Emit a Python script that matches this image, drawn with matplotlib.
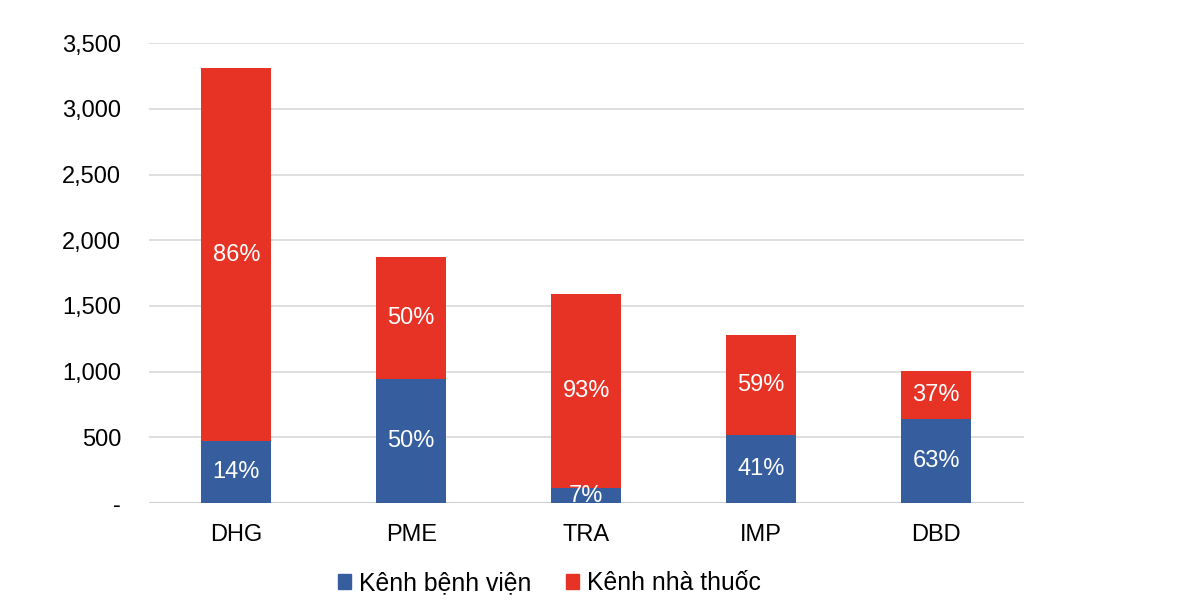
import matplotlib
matplotlib.use('Agg')
from matplotlib import pyplot as plt
from matplotlib.ticker import FuncFormatter
from matplotlib.patches import Patch

plt.rcParams['font.family'] = ['Liberation Sans', 'DejaVu Sans']

companies = ["DHG", "PME", "TRA", "IMP", "DBD"]
hospital = [472, 943, 114, 520, 636]
pharmacy = [2838, 929, 1476, 758, 368]
hospital_pct = ["14%", "50%", "7%", "41%", "63%"]
pharmacy_pct = ["86%", "50%", "93%", "59%", "37%"]
series_names = ["Kênh bệnh viện", "Kênh nhà thuốc"]

blue = "#365E9F"
red = "#E63326"
fs = 17

fig = plt.figure(figsize=(12, 6.16), dpi=100)
ax = fig.add_axes([0.124, 0.1834, 0.729, 0.7466])

x = list(range(len(companies)))
ax.bar(x, hospital, width=0.4, color=blue, zorder=3)
ax.bar(x, pharmacy, width=0.4, bottom=hospital, color=red, zorder=3)

for i in x:
    ax.text(i, hospital[i] / 2, hospital_pct[i], ha='center', va='center',
            color='white', fontsize=fs, zorder=4)
    ax.text(i, hospital[i] + pharmacy[i] / 2, pharmacy_pct[i], ha='center',
            va='center', color='white', fontsize=fs, zorder=4)

ax.set_xlim(-0.5, len(companies) - 0.5)
ax.set_ylim(0, 3500)
ax.set_yticks(range(0, 3501, 500))
ax.yaxis.set_major_formatter(FuncFormatter(lambda v, p: "-" if v == 0 else f"{int(v):,}"))
ax.set_xticks(x)
ax.set_xticklabels(companies)
ax.tick_params(axis='both', length=0, labelsize=fs, colors='black')
ax.tick_params(axis='y', pad=20)
ax.tick_params(axis='x', pad=15)
ax.grid(axis='y', color='#D9D9D9', linewidth=1.2, zorder=0)
ax.axhline(0, color='#D0D0D0', linewidth=1.5, zorder=2)
for s in ax.spines.values():
    s.set_visible(False)

handles = [Patch(color=blue), Patch(color=red)]
fig.legend(handles, series_names, loc='center', bbox_to_anchor=(0.4575, 0.053),
           ncol=2, frameon=False, fontsize=17.8, handlelength=0.55,
           handleheight=0.55, handletextpad=0.3, columnspacing=1.4)

fig.savefig("out.png", dpi=100)
